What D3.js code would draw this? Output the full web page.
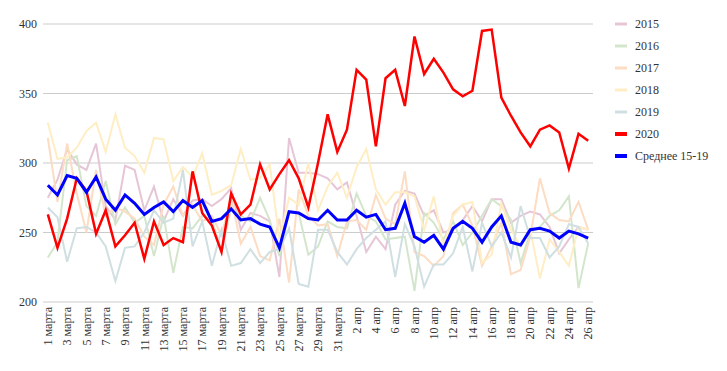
<!DOCTYPE html>
<html lang="ru">
<head>
<meta charset="UTF-8">
<title>2015-2020</title>
<style>
  body { margin: 0; background: #fff; }
  svg text { font-family: "Times New Roman", "Liberation Serif", serif; fill: #333; }
</style>
</head>
<body>
<div id="chart"></div>
<script src="https://d3js.org/d3.v7.min.js"></script>
<script>
// dates: 1 марта .. 26 апр
const days = d3.range(1, 32).map(d => d + " марта").concat(d3.range(1, 27).map(d => d + " апр"));

const y2015 = [275, 288, 310, 299, 295, 314, 269, 259, 298, 295, 266, 283, 258, 274, 262, 273, 274,
  269, 274, 282, 252, 264, 262, 258, 218, 318, 293, 293, 292,
  289, 281, 286, 262, 236, 247, 238, 270, 280, 278,
  262, 266, 250, 252, 259, 269, 258, 274, 274, 257, 262, 265, 263, 254, 235, 245, 254, 252];
const y2016 = [232, 243, 302, 305, 269, 262, 287, 256, 268, 257, 262, 233, 262, 221, 254, 253, 262,
  259, 236, 268, 262, 258, 275, 259, 233, 265, 264, 234, 240,
  258, 254, 253, 278, 262, 258, 245, 246, 247, 208,
  264, 257, 245, 258, 241, 250, 262, 274, 269, 259, 228, 250, 254, 262, 266, 276, 210, 242];
const y2017 = [318, 272, 314, 278, 250, 295, 262, 268, 265, 260, 247, 241, 270, 283, 262, 270, 258,
  262, 248, 275, 242, 254, 233, 230, 260, 214, 281, 262, 255,
  256, 233, 258, 259, 252, 277, 260, 256, 294, 236,
  233, 226, 233, 264, 270, 255, 226, 240, 257, 220, 223, 247, 289, 264, 259, 258, 272, 252];
const y2018 = [329, 303, 304, 311, 323, 329, 308, 335, 311, 305, 293, 318, 317, 287, 297, 290, 307,
  277, 280, 284, 310, 288, 289, 299, 245, 275, 270, 300, 266,
  283, 293, 275, 297, 310, 281, 270, 279, 279, 276,
  252, 276, 240, 262, 270, 272, 228, 234, 271, 252, 240, 252, 217, 245, 236, 226, 254, 252];
const y2019 = [268, 261, 229, 253, 254, 250, 240, 215, 239, 240, 250, 266, 257, 260, 295, 240, 258,
  226, 252, 226, 228, 238, 228, 236, 238, 253, 213, 211, 252,
  252, 236, 227, 238, 246, 252, 258, 218, 256, 240,
  211, 227, 227, 235, 254, 222, 257, 240, 250, 232, 269, 246, 246, 232, 240, 256, 254, 242];
const y2020 = [263, 239, 260, 289, 280, 249, 266, 240, 248, 257, 231, 258, 241, 246, 243, 294, 264, 255, 236,
  278, 263, 270, 299, 281, 292, 302, 289, 268, 300, 335, 308, 324, 367, 360, 312, 361, 367, 341, 391,
  364, 375, 365, 353, 348, 352, 395, 396, 347, 334, 322, 312, 324, 327, 322, 296, 321, 316];
const avg1519 = [284, 277, 291, 289, 279, 290, 274, 266, 277, 271, 263, 268, 272, 265, 273, 268, 273, 258, 260,
  267, 259, 260, 256, 254, 239, 265, 264, 260, 259, 266, 259, 259, 266, 261, 263, 252, 253, 271, 247,
  243, 248, 238, 253, 258, 253, 243, 254, 262, 243, 241, 252, 253, 251, 246, 251, 249, 246];

const yTicks = [200, 250, 300, 350, 400];

const series = [
  {name: "2015", values: y2015, color: "#e6c6d6", width: 2},
  {name: "2016", values: y2016, color: "#d3e6cc", width: 2},
  {name: "2017", values: y2017, color: "#fcdcc2", width: 2},
  {name: "2018", values: y2018, color: "#ffeec4", width: 2},
  {name: "2019", values: y2019, color: "#cfdfe2", width: 2},
  {name: "2020", values: y2020, color: "#ff0000", width: 2.5},
  {name: "Среднее 15-19", values: avg1519, color: "#0000ff", width: 3}
];

const width = 727, height = 371;
const margin = {left: 43, right: 593, top: 24, bottom: 302};
const serif = '"Times New Roman", "Liberation Serif", serif';

const svg = d3.select("#chart").append("svg")
  .attr("width", width)
  .attr("height", height);

const x = d3.scalePoint()
  .domain(d3.range(days.length))
  .range([margin.left, margin.right])
  .padding(0.5);

const y = d3.scaleLinear()
  .domain([200, 400])
  .range([margin.bottom, margin.top]);

// grid
svg.append("g")
  .selectAll("line")
  .data(yTicks)
  .join("line")
  .attr("x1", margin.left)
  .attr("x2", margin.right)
  .attr("y1", d => y(d))
  .attr("y2", d => y(d))
  .attr("stroke", "#cccccc")
  .attr("stroke-width", 1);

svg.append("g")
  .attr("font-family", serif)
  .attr("font-size", 12)
  .selectAll("text")
  .data(yTicks)
  .join("text")
  .attr("x", margin.left - 6)
  .attr("y", d => y(d))
  .attr("dy", "0.35em")
  .attr("text-anchor", "end")
  .text(d => d);

// x labels, every second day
svg.append("g")
  .attr("font-family", serif)
  .attr("font-size", 12)
  .selectAll("text")
  .data(days.map((d, i) => i).filter(i => i % 2 === 0))
  .join("text")
  .attr("transform", i => `translate(${x(i)},${margin.bottom + 5}) rotate(-90)`)
  .attr("dy", "0.35em")
  .attr("text-anchor", "end")
  .text(i => days[i]);

const line = d3.line()
  .x((d, i) => x(i))
  .y(d => y(d));

svg.append("g")
  .attr("fill", "none")
  .selectAll("path")
  .data(series)
  .join("path")
  .attr("d", d => line(d.values))
  .attr("stroke", d => d.color)
  .attr("stroke-width", d => d.width)
  .attr("stroke-linejoin", "miter");

// legend
const legend = svg.append("g")
  .attr("font-family", serif)
  .attr("font-size", 12)
  .selectAll("g")
  .data(series)
  .join("g")
  .attr("transform", (d, i) => `translate(615,${24 + i * 22})`);

legend.append("line")
  .attr("x1", 0)
  .attr("x2", 12)
  .attr("stroke", d => d.color)
  .attr("stroke-width", d => d.width > 2 ? 4 : 3);

legend.append("text")
  .attr("x", 20)
  .attr("dy", "0.35em")
  .text(d => d.name);
</script>
</body>
</html>
